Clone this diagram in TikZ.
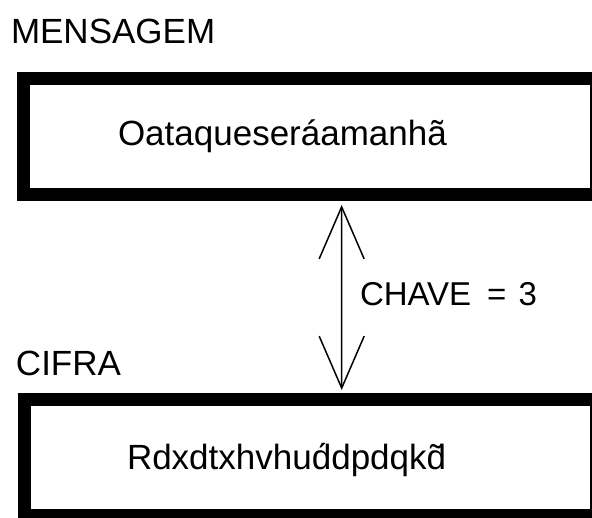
\documentclass[tikz,border=0pt]{standalone}
\usepackage{fontspec}
\setmainfont{Liberation Sans}
\usetikzlibrary{arrows.meta}

\tikzset{
  framebox/.style={draw=black, line width=13pt, fill=white, rectangle,
    inner sep=0pt, outer sep=0pt},
  label35/.style={inner sep=0pt, outer sep=0pt, anchor=base west,
    font=\fontsize{35}{42}\selectfont},
  keylabel/.style={inner sep=0pt, outer sep=0pt, anchor=base west,
    font=\fontsize{33}{40}\selectfont},
  keyarrow/.style={line width=1.5pt,
    {Straight Barb[length=52pt,width=45pt]}-{Straight Barb[length=52pt,width=45pt]}}
}

\begin{document}
\begin{tikzpicture}[x=1pt, y=-1pt]
  \useasboundingbox (0,0) rectangle (592,517);
  \clip (0,0) rectangle (592,517);

  % plain-text box (top) and cipher-text box (bottom)
  \node[framebox, minimum width=572.7pt, minimum height=115.3pt]
    (msgbox) at (309.65,136.35) {};
  \node[framebox, minimum width=572pt, minimum height=115.8pt]
    (cifbox) at (310.5,457.6) {};

  % captions
  \node[label35] (msgtitle) at (11,43.3) {MENSAGEM};
  \node[label35] (ciftitle) at (16,375) {CIFRA};

  % box contents
  \node[label35] (msgtext) at (118,145.5) {Oataqueseráamanhã};
  \node[label35] (ciftext) at (127,469) {Rdxdtxhvhud^^^^0301dpdqkd^^^^0303};

  % key between the two texts
  \coordinate (keytop) at ([xshift=32pt, yshift=-11pt]msgbox.south);
  \coordinate (keybot) at ([xshift=31.2pt, yshift=9.7pt]cifbox.north);
  \draw[keyarrow] (keytop) -- (keybot);
  \node[keylabel] (key) at (360,305) {CHAVE\hspace{16pt}=\hspace{12pt}3};
\end{tikzpicture}
\end{document}
